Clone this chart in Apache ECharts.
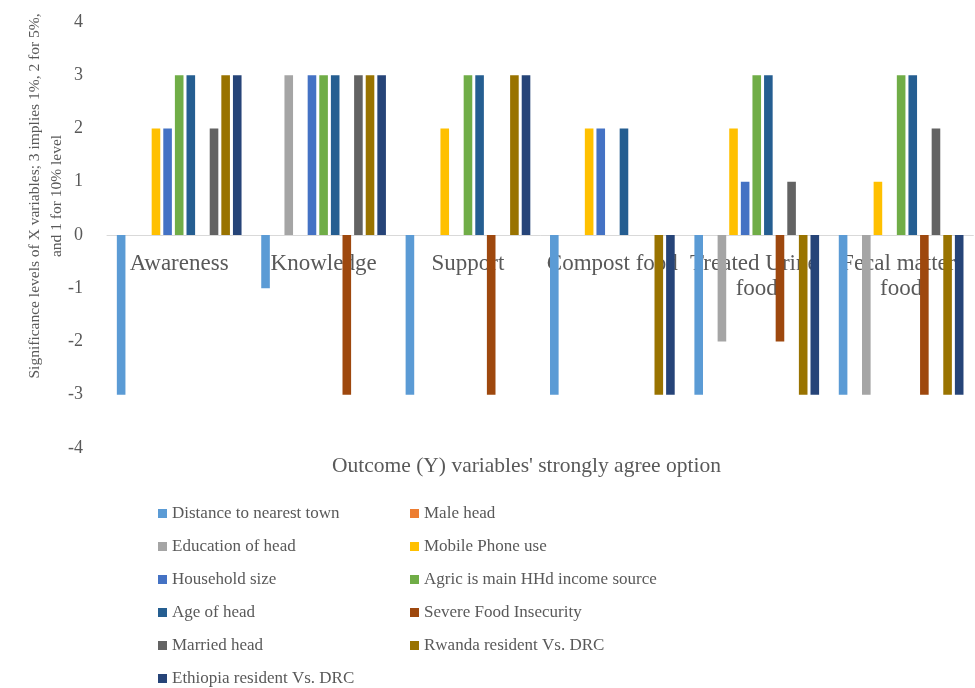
<!DOCTYPE html>
<html>
<head>
<meta charset="utf-8">
<script src="https://cdn.jsdelivr.net/npm/echarts@6/dist/echarts.min.js"></script>
<style>
html,body{margin:0;padding:0;background:#fff;}
#chart{width:975px;height:688px;}
</style>
</head>
<body>
<div id="chart"></div>
<script>
const categories = ['Awareness', 'Knowledge', 'Support', 'Compost food', 'Treated Urine food', 'Fecal matter food'];
const seriesNames = ['Distance to nearest town', 'Male head', 'Education of head', 'Mobile Phone use', 'Household size',
  'Agric is main HHd income source', 'Age of head', 'Severe Food Insecurity', 'Married head',
  'Rwanda resident Vs. DRC', 'Ethiopia resident Vs. DRC'];
const distance   = [-3, -1, -3, -3, -3, -3];
const maleHead   = [0, 0, 0, 0, 0, 0];
const education  = [0, 3, 0, 0, -2, -3];
const mobile     = [2, 0, 2, 2, 2, 1];
const household  = [2, 3, 0, 2, 1, 0];
const agric      = [3, 3, 3, 0, 3, 3];
const age        = [3, 3, 3, 2, 3, 3];
const severe     = [0, -3, -3, 0, -2, -3];
const married    = [2, 3, 0, 0, 1, 2];
const rwanda     = [3, 3, 3, -3, -3, -3];
const ethiopia   = [3, 3, 3, -3, -3, -3];
const yTicks = [-4, -3, -2, -1, 0, 1, 2, 3, 4];
const colors = ['#5B9BD5', '#ED7D31', '#A5A5A5', '#FFC000', '#4472C4', '#70AD47', '#255E91', '#9E480E', '#636363', '#997300', '#264478'];
const values = [distance, maleHead, education, mobile, household, agric, age, severe, married, rwanda, ethiopia];

const font = 'Liberation Serif';
const textColor = '#595959';
const chart = echarts.init(document.getElementById('chart'));
const leftCol = [0, 2, 4, 6, 8, 10].map(i => seriesNames[i]);
const rightCol = [1, 3, 5, 7, 9].map(i => seriesNames[i]);
const legendBase = {
  orient: 'vertical', top: 505, height: 200, padding: 0, itemWidth: 9, itemHeight: 9, itemGap: 16, icon: 'rect',
  textStyle: { fontFamily: font, fontSize: 17, color: textColor, lineHeight: 17 }
};
chart.setOption({
  animation: false,
  color: colors,
  grid: { left: 107, right: 0, top: 22, bottom: 240, containLabel: false },
  legend: [
    Object.assign({ left: 158, data: leftCol }, legendBase),
    Object.assign({ left: 410, data: rightCol }, legendBase)
  ],
  xAxis: {
    type: 'category', data: categories,
    offset: -213,
    axisLine: { onZero: false, lineStyle: { color: '#D9D9D9', width: 1 } },
    axisTick: { show: false },
    axisLabel: { interval: 0, margin: 16, fontFamily: font, fontSize: 23, color: textColor, width: 142, overflow: 'break', lineHeight: 25 },
    z: 0
  },
  yAxis: {
    type: 'value', min: -4, max: 4, interval: 1,
    axisLine: { show: false }, axisTick: { show: false }, splitLine: { show: false },
    axisLabel: { fontFamily: font, fontSize: 18, color: textColor, margin: 24 }
  },
  graphic: [
    { type: 'text', left: 332, top: 455, style: { text: "Outcome (Y) variables' strongly agree option", font: '21.5px "Liberation Serif"', fill: textColor } },
    { type: 'text', x: 46, y: 196, rotation: Math.PI / 2,
      style: { text: 'Significance levels of X variables; 3 implies 1%, 2 for 5%,\nand 1 for 10% level', font: '15.5px "Liberation Serif"', fill: textColor, align: 'center', verticalAlign: 'middle', lineHeight: 22 } }
  ],
  series: values.map((v, i) => ({
    name: seriesNames[i], type: 'bar', data: v, barWidth: 8.6, barGap: '35%', z: 2
  }))
});
</script>
</body>
</html>
